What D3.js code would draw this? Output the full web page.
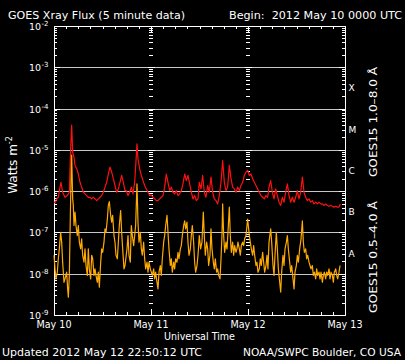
<!DOCTYPE html>
<html><head><meta charset="utf-8">
<script src="https://cdn.jsdelivr.net/npm/d3@7"></script>
<style>
body{margin:0;background:#000}
svg{display:block;background:#000}
text{font-family:"DejaVu Sans",sans-serif;fill:#fff;white-space:pre}
</style>
</head><body>
<svg id="chart" width="405" height="360"></svg>
<script>
// ---- data (hours since 2012-05-10 00:00 UTC, flux in W m^-2) ----
const longTimes=[0,0.25,0.66,1.07,1.48,1.73,2.14,2.72,3.30,3.79,4.12,4.37,4.62,4.95,5.20,5.61,6.02,6.43,6.84,7.26,7.67,8.08,8.49,8.91,9.32,9.73,10.14,10.56,10.97,11.38,11.79,12.21,12.62,13.03,13.44,13.86,14.27,14.68,15.09,15.50,15.92,16.33,16.74,17.15,17.57,
17.89,18.31,18.72,19.13,19.54,19.96,20.37,20.53,20.78,21.19,21.61,22.02,22.43,22.84,23.26,23.67,24.08,24.49,24.90,25.32,25.73,26.14,26.55,26.97,27.38,27.79,28.20,28.62,29.03,29.44,29.85,30.27,30.68,31.09,31.50,31.91,32.33,32.74,33.15,33.56,33.98,34.39,34.80,35.21,35.63,
35.95,36.37,36.78,37.19,37.60,38.02,38.43,38.84,39.25,39.67,40.08,40.49,40.90,41.32,41.73,42.14,42.55,42.96,43.38,43.79,44.20,44.61,45.03,45.44,45.85,46.26,46.68,47.09,47.50,47.91,48.33,48.74,49.15,49.56,49.97,50.39,50.80,51.21,51.62,52.04,52.45,52.86,
53.20,53.61,54.02,54.44,54.85,55.26,55.67,56.09,56.50,56.91,57.32,57.74,58.15,58.56,58.97,59.39,59.80,60.21,60.62,61.03,61.45,61.69,61.86,62.27,62.68,63.10,63.51,63.92,64.33,64.75,65.16,65.57,65.98,66.40,66.81,67.22,67.63,68.05,68.46,68.87,69.28,69.70,70.11,70.52,70.83];
const longFlux=[5.6e-7,5.2e-7,6.5e-7,7.1e-7,1.25e-6,1.64e-6,9.4e-7,7.1e-7,7.8e-7,9.4e-7,1.05e-5,4.0e-5,8.8e-6,6.6e-6,4.2e-6,3.5e-6,2.6e-6,1.64e-6,1.25e-6,9.4e-7,8.6e-7,7.8e-7,7.1e-7,7.1e-7,6.5e-7,7.1e-7,6.5e-7,5.9e-7,6.5e-7,7.1e-7,7.8e-7,9.4e-7,1.25e-6,1.64e-6,2.6e-6,3.8e-6,2.9e-6,2.0e-6,1.37e-6,9.4e-7,1.13e-6,1.64e-6,2.4e-6,1.64e-6,1.03e-6,
1.03e-6,7.8e-7,9.4e-7,1.25e-6,8.6e-7,1.64e-6,7.3e-6,1.39e-5,6.0e-6,3.5e-6,2.4e-6,1.8e-6,1.37e-6,1.13e-6,9.4e-7,7.8e-7,8.0e-7,7.1e-7,6.5e-7,5.9e-7,5.9e-7,6.5e-7,7.1e-7,7.8e-7,1.25e-6,2.6e-6,1.64e-6,1.03e-6,1.25e-6,9.4e-7,8.6e-7,1.03e-6,7.8e-7,8.6e-7,1.03e-6,1.5e-6,2.6e-6,1.8e-6,2.4e-6,1.5e-6,9.4e-7,6.5e-7,7.8e-7,5.9e-7,6.5e-7,
1.64e-6,1.13e-6,2.4e-6,9.4e-7,7.1e-7,1.37e-6,9.4e-7,2.2e-6,9.4e-7,6.5e-7,5.9e-7,4.9e-7,7.8e-7,1.64e-6,5.5e-6,1.64e-6,1.03e-6,1.25e-6,4.2e-6,2.0e-6,1.25e-6,1.13e-6,9.4e-7,1.25e-6,1.03e-6,1.37e-6,1.64e-6,2.4e-6,2.9e-6,3.2e-6,2.4e-6,2.6e-6,2.0e-6,1.64e-6,1.37e-6,1.13e-6,9.4e-7,7.8e-7,7.1e-7,6.5e-7,7.8e-7,7.1e-7,
1.25e-6,1.8e-6,9.4e-7,6.5e-7,1.13e-6,7.8e-7,5.4e-7,4.5e-7,7.1e-7,5.4e-7,9.4e-7,1.5e-6,7.8e-7,5.4e-7,7.1e-7,5.4e-7,7.1e-7,1.03e-6,6.5e-7,9.4e-7,2.2e-6,1.37e-6,9.4e-7,7.1e-7,5.9e-7,6.5e-7,5.4e-7,5.9e-7,4.9e-7,5.4e-7,4.9e-7,5.4e-7,4.9e-7,4.9e-7,4.5e-7,4.9e-7,4.5e-7,4.3e-7,4.5e-7,4.3e-7,4.1e-7,4.3e-7,4.1e-7,4.1e-7,4.9e-7];

const shortTimes=[0,0.25,0.49,0.82,1.07,1.32,1.65,1.90,2.14,2.47,2.72,3.13,3.38,3.55,3.79,3.96,4.12,4.37,4.62,4.78,4.95,5.20,5.44,5.77,6.02,6.27,6.60,6.84,7.09,7.42,7.67,7.92,8.25,8.49,8.74,9.07,9.32,9.57,9.90,10.14,10.39,10.72,10.97,11.22,11.55,11.79,12.04,12.37,12.62,12.87,13.20,13.44,13.69,14.02,14.27,14.51,14.84,15.09,15.34,15.67,15.92,16.16,16.49,16.74,16.99,17.32,17.57,
18.06,18.31,18.55,18.88,19.13,19.38,19.71,19.96,20.20,20.53,20.78,21.03,21.36,21.61,21.85,22.18,22.43,22.68,23.01,23.26,23.50,23.83,24.08,24.33,24.66,24.90,25.15,25.48,25.73,25.98,26.31,26.55,26.80,27.13,27.38,27.63,27.96,28.20,28.45,28.78,29.03,29.28,29.61,29.85,30.10,30.43,30.68,30.93,31.26,31.50,31.75,32.08,32.33,32.57,32.90,33.15,33.40,33.73,33.98,34.22,34.55,34.80,35.05,35.38,35.63,
35.95,36.28,36.61,36.94,37.19,37.44,37.77,38.02,38.26,38.59,38.84,39.09,39.42,39.67,39.91,40.24,40.49,40.74,41.07,41.32,41.56,41.73,41.98,42.22,42.55,42.80,43.05,43.38,43.62,43.87,44.20,44.45,44.70,45.03,45.27,45.52,45.85,46.10,46.35,46.68,46.92,47.17,47.50,47.75,47.91,48.16,48.33,48.57,48.82,49.15,49.40,49.65,49.97,50.22,50.47,50.80,51.05,51.29,51.62,51.87,52.12,52.45,52.70,52.94,
53.20,53.61,53.86,54.19,54.44,54.68,55.01,55.26,55.51,55.84,56.09,56.33,56.66,56.91,57.16,57.49,57.74,57.98,58.31,58.56,58.81,59.14,59.39,59.63,59.96,60.21,60.46,60.79,61.12,61.45,61.69,61.94,62.27,62.52,62.77,63.10,63.34,63.59,63.92,64.17,64.42,64.75,64.99,65.24,65.57,65.82,66.07,66.40,66.64,66.89,67.22,67.47,67.71,68.05,68.29,68.54,68.87,69.12,69.36,69.70,69.94,70.19,70.52,70.77];
const shortFlux=[2.8e-8,1.31e-8,7.5e-9,1.09e-8,2.3e-8,4.0e-8,1.01e-7,5.8e-8,1.9e-8,6.2e-9,7.5e-9,1.09e-8,4.3e-9,2.7e-9,9.1e-9,8.4e-8,6.5e-7,7.5e-6,6.5e-7,4.5e-7,1.47e-7,3.1e-7,1.47e-7,8.4e-8,1.47e-7,5.8e-8,4.0e-8,7.0e-8,2.8e-8,1.9e-8,4.0e-8,1.58e-8,9.1e-9,4.0e-8,1.31e-8,7.5e-9,2.8e-8,2.3e-8,9.1e-9,1.31e-8,9.1e-9,6.2e-9,1.09e-8,4.7e-9,1.9e-8,4.0e-8,3.3e-8,5.8e-8,1.22e-7,1.01e-7,2.1e-7,4.5e-7,5.6e-7,2.6e-7,1.77e-7,2.6e-7,8.4e-8,5.8e-8,2.8e-8,2.3e-8,5.8e-8,1.47e-7,3.4e-7,1.01e-7,4.0e-8,1.31e-8,1.58e-8,
4.0e-8,8.4e-8,2.8e-8,1.9e-8,1.47e-7,8.4e-8,4.8e-8,8.4e-8,1.47e-7,1.5e-6,1.77e-7,5.8e-8,1.01e-7,4.0e-8,2.8e-8,5.8e-8,2.3e-8,1.31e-8,1.9e-8,1.09e-8,1.9e-8,1.31e-8,1.09e-8,9.1e-9,1.31e-8,7.5e-9,1.09e-8,6.2e-9,4.3e-9,1.09e-8,1.58e-8,9.1e-9,2.3e-8,5.8e-8,8.4e-8,1.47e-7,2.6e-7,1.01e-7,4.0e-8,1.58e-8,2.3e-8,1.09e-8,1.9e-8,1.31e-8,2.3e-8,1.9e-8,3.3e-8,2.3e-8,4.0e-8,4.8e-8,8.4e-8,1.47e-7,1.9e-7,1.22e-7,1.77e-7,5.8e-8,2.8e-8,4.0e-8,8.4e-8,1.47e-7,5.8e-8,1.9e-8,1.09e-8,1.58e-8,2.8e-8,
8.4e-8,4.0e-8,5.8e-8,3.1e-7,8.4e-8,2.8e-8,5.8e-8,4.0e-8,1.58e-8,2.8e-8,1.22e-7,4.0e-8,1.9e-8,1.31e-8,2.3e-8,1.09e-8,1.31e-8,9.1e-9,7.5e-9,2.3e-8,8.4e-8,4.9e-7,8.4e-8,3.3e-8,5.8e-8,4.0e-8,1.01e-7,4.1e-7,8.4e-8,3.3e-8,5.8e-8,2.8e-8,4.8e-8,3.3e-8,4.0e-8,5.8e-8,4.0e-8,2.8e-8,4.8e-8,5.8e-8,4.8e-8,7.0e-8,8.4e-8,1.47e-7,2.1e-7,1.22e-7,8.4e-8,5.8e-8,4.0e-8,2.8e-8,4.8e-8,2.8e-8,1.58e-8,1.9e-8,1.09e-8,1.31e-8,2.3e-8,1.58e-8,3.3e-8,1.9e-8,1.09e-8,1.58e-8,2.8e-8,1.31e-8,
5.8e-8,1.22e-7,5.8e-8,1.58e-8,9.1e-9,2.8e-8,1.01e-7,4.0e-8,1.31e-8,6.2e-9,3.6e-9,1.09e-8,2.8e-8,1.58e-8,4.0e-8,5.8e-8,8.4e-8,4.0e-8,1.9e-8,1.09e-8,1.58e-8,7.5e-9,4.3e-9,1.09e-8,1.58e-8,2.8e-8,1.9e-8,4.0e-8,7.0e-8,1.9e-7,5.8e-8,3.3e-8,4.0e-8,2.3e-8,2.8e-8,1.9e-8,1.58e-8,1.31e-8,1.58e-8,9.1e-9,1.09e-8,7.5e-9,1.31e-8,9.1e-9,1.09e-8,7.5e-9,1.09e-8,6.2e-9,9.1e-9,1.09e-8,7.5e-9,1.09e-8,9.1e-9,1.31e-8,7.5e-9,1.09e-8,9.1e-9,6.2e-9,1.09e-8,1.31e-8,9.1e-9,7.5e-9,1.09e-8,1.58e-8];

const dayLabels=["May 10","May 11","May 12","May 13"];
const decadeExps=[-2,-3,-4,-5,-6,-7,-8,-9];
const classLabels=["X","M","C","B","A"];
const classExps=[-4,-5,-6,-7,-8];
const titleText="GOES Xray Flux (5 minute data)";
const beginText="Begin:  2012 May 10 0000 UTC";
const updatedText="Updated 2012 May 12 22:50:12 UTC";
const creditText="NOAA/SWPC Boulder, CO USA";
const longLabel="GOES15 1.0\u20138.0 \u00C5";
const shortLabel="GOES15 0.5\u20134.0 \u00C5";

// ---- layout ----
const L=54,R=345,T=26,B=315;
const t0=Date.UTC(2012,4,10);
const toDate=h=>new Date(t0+h*3600e3);
const x=d3.scaleUtc().domain([new Date(t0),new Date(t0+72*3600e3)]).range([L,R]);
const y=d3.scaleLog().domain([1e-9,1e-2]).range([B,T]);
const svg=d3.select("#chart");
svg.append("rect").attr("width",405).attr("height",360).attr("fill","#000");

// gridlines
const g=svg.append("g").attr("shape-rendering","crispEdges");
g.selectAll("line.grid").data(decadeExps.filter(e=>e<-2&&e>-9)).join("line")
  .attr("x1",L).attr("x2",R).attr("y1",e=>Math.round(y(Math.pow(10,e)))+0.5).attr("y2",e=>Math.round(y(Math.pow(10,e)))+0.5)
  .attr("stroke","#c8c8c8").attr("stroke-width",1);

// minor log tick values
const logTicks=[];
for(let e=-9;e<-2;e++){for(let m=1;m<=9;m++){logTicks.push({v:m*Math.pow(10,e),major:m===1});}}
logTicks.push({v:1e-2,major:true});
const px=v=>Math.round(v)+0.5;
// left & right axes ticks
[[L,1],[R,-1]].forEach(([x0,dir])=>{
  g.selectAll(null).data(logTicks).join("line")
   .attr("x1",x0).attr("x2",d=>x0+dir*(d.major?6:3))
   .attr("y1",d=>px(y(d.v))).attr("y2",d=>px(y(d.v))).attr("stroke","#fff");
});
// day boundary ticks
[1,2].forEach(dd=>{
  const xd=Math.round(x(toDate(dd*24)));
  g.selectAll(null).data(logTicks).join("line")
   .attr("x1",d=>xd-(d.major?3:2)).attr("x2",d=>xd+(d.major?4:2))
   .attr("y1",d=>px(y(d.v))).attr("y2",d=>px(y(d.v))).attr("stroke","#fff");
});
// time ticks every 3 hours
const hourTicks=d3.range(0,73,3);
hourTicks.forEach(h=>{
  const xv=px(x(toDate(h)));
  const len=(h%24===0)?6:3;
  g.append("line").attr("x1",xv).attr("x2",xv).attr("y1",B).attr("y2",B-len).attr("stroke","#fff");
  g.append("line").attr("x1",xv).attr("x2",xv).attr("y1",T).attr("y2",T+len).attr("stroke","#fff");
});

// data lines
const line=d3.line().x(d=>x(toDate(d[0]))).y(d=>y(d[1]));
const longData=longTimes.map((t,i)=>[t,longFlux[i]]);
const shortData=shortTimes.map((t,i)=>[t,shortFlux[i]]);
svg.append("path").datum(longData).attr("d",line).attr("fill","none").attr("stroke","#ff1010").attr("stroke-width",1.2).attr("stroke-linejoin","round");
svg.append("path").datum(shortData).attr("d",line).attr("fill","none").attr("stroke","#ffaa00").attr("stroke-width",1.2).attr("stroke-linejoin","round");

// frame
g.append("rect").attr("x",L+0.5).attr("y",T+0.5).attr("width",R-L).attr("height",B-T).attr("fill","none").attr("stroke","#fff");

// y tick labels
decadeExps.forEach(e=>{
  const yy=y(Math.pow(10,e));
  svg.append("text").attr("x",41).attr("y",yy+4).attr("text-anchor","end").attr("font-size",9.5).attr("fill","#e8e8e8").text("10");
  svg.append("text").attr("x",41.5).attr("y",yy).attr("font-size",7).attr("fill","#e8e8e8").text(String(e));
});
// y title
const yt=svg.append("text").attr("transform","translate(17,165) rotate(-90)").attr("text-anchor","middle").attr("font-size",12);
yt.append("tspan").text("Watts m");
yt.append("tspan").attr("font-size",8).attr("dy",-5).text("-2");

// class letters
classLabels.forEach((c,i)=>{
  const yy=y(Math.pow(10,classExps[i]+0.5));
  svg.append("text").attr("x",348.5).attr("y",yy+3.5).attr("font-family","DejaVu Serif, serif").attr("font-size",9).attr("fill","#e8e8e8").text(c);
});

// x labels
dayLabels.forEach((d,i)=>{
  svg.append("text").attr("x",x(toDate(i*24))).attr("y",328).attr("text-anchor","middle").attr("font-size",10).attr("textLength",35).attr("lengthAdjust","spacingAndGlyphs").text(d);
});
svg.append("text").attr("x",164).attr("y",339.5).attr("font-size",10).attr("textLength",71).attr("lengthAdjust","spacingAndGlyphs").text("Universal Time");

// titles
svg.append("text").attr("x",8).attr("y",18.5).attr("font-size",11).attr("textLength",177).attr("lengthAdjust","spacingAndGlyphs").text(titleText);
svg.append("text").attr("x",229).attr("y",18.5).attr("font-size",11).attr("textLength",173).attr("lengthAdjust","spacingAndGlyphs").text(beginText);
svg.append("text").attr("x",2).attr("y",356).attr("font-size",11).attr("textLength",200).attr("lengthAdjust","spacingAndGlyphs").text(updatedText);
svg.append("text").attr("x",243).attr("y",355.5).attr("font-size",10.5).attr("textLength",158).attr("lengthAdjust","spacingAndGlyphs").text(creditText);

// legend (rotated)
svg.append("text").attr("transform","translate(377,122) rotate(-90)").attr("text-anchor","middle").attr("font-size",11).attr("fill","#d81818").attr("textLength",110).attr("lengthAdjust","spacingAndGlyphs").text(longLabel);
svg.append("text").attr("transform","translate(377,257) rotate(-90)").attr("text-anchor","middle").attr("font-size",11).attr("fill","#d89a28").attr("textLength",112).attr("lengthAdjust","spacingAndGlyphs").text(shortLabel);
</script>
</body></html>
